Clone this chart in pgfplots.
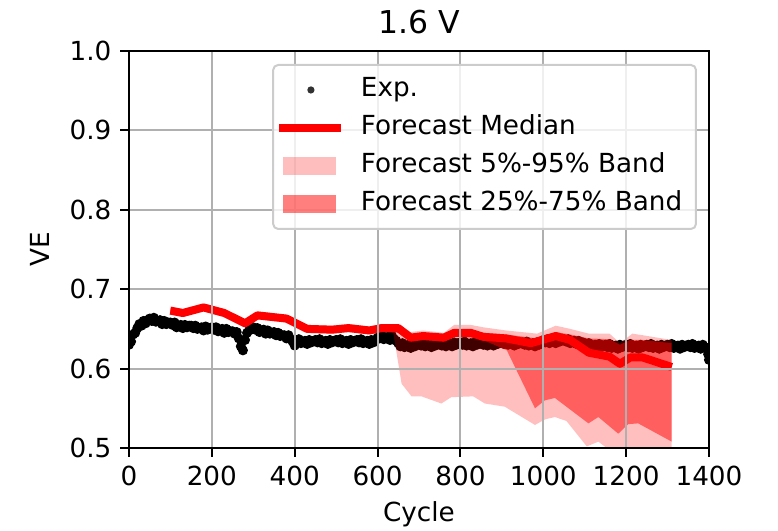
\documentclass[border=0pt]{standalone}
\usepackage{fontspec}
\setmainfont{DejaVu Sans}
\usepackage{pgfplots}
\pgfplotsset{compat=1.18}
\definecolor{gridgray}{RGB}{176,176,176}
\definecolor{legframe}{RGB}{204,204,204}
\begin{document}
\begin{tikzpicture}
\begin{axis}[
  name=ax,
  width=232pt, height=158.8pt, scale only axis,
  xmin=0, xmax=1400, ymin=0.5, ymax=1.0,
  xtick={0,200,400,600,800,1000,1200,1400},
  ytick={0.5,0.6,0.7,0.8,0.9,1.0},
  /pgf/number format/assume math mode=true,
  /pgf/number format/1000 sep={},
  yticklabel style={/pgf/number format/fixed, /pgf/number format/fixed zerofill, /pgf/number format/precision=1},
  tick label style={font=\fontsize{10.5}{12.6}\selectfont},
  grid=major,
  major grid style={gridgray, line width=0.8pt},
  axis on top,
  clip marker paths=true,
  axis line style={black, line width=0.8pt},
  tick style={black, line width=0.8pt},
  tick align=outside,
  major tick length=3.5pt,
  xtick pos=bottom, ytick pos=left,
  every axis title shift=0pt,
  title={1.6 V},
  title style={font=\fontsize{12.6}{15}\selectfont, at={(axis description cs:0.5,1)}, anchor=base, yshift=7.1pt},
  xlabel={Cycle},
  xlabel style={font=\fontsize{10.5}{12.6}\selectfont, at={(axis description cs:0.5,0)}, anchor=base, yshift=-29.5pt},
  ylabel={VE},
  ylabel style={font=\fontsize{10.5}{12.6}\selectfont, at={(axis description cs:-0.1534,0.5)}, anchor=center},
  legend style={at={(axis description cs:0.9793,0.9673)}, anchor=north east,
    draw=legframe, line width=0.8pt, rounded corners=2pt, fill=white, fill opacity=0.8, draw opacity=1, text opacity=1,
    font=\fontsize{10.5}{12.6}\selectfont, inner xsep=0.8pt, inner ysep=5pt, row sep=5.2pt,
    nodes={inner sep=0pt, text height=7.5pt, text depth=2.5pt}},
  legend cell align=left,
]
% legend entries
\addlegendimage{legend image code/.code={\path (0pt,0pt) (32.3pt,0pt); \fill[black, draw=none] (12.7pt,0pt) circle (1.45pt);}}
\addlegendentry{Exp.}
\addlegendimage{legend image code/.code={\path (0pt,0pt) (32.3pt,0pt); \draw[red, line width=3.2pt, sharp corners] (0pt,0pt) -- (24.7pt,0pt);}}
\addlegendentry{Forecast Median}
\addlegendimage{legend image code/.code={\path (0pt,0pt) (32.3pt,0pt); \path[fill=red, draw=none, sharp corners, fill opacity=0.25] (1.6pt,-3.6pt) rectangle (22.9pt,3.6pt);}}
\addlegendentry{Forecast 5\%-95\% Band}
\addlegendimage{legend image code/.code={\path (0pt,0pt) (32.3pt,0pt); \path[fill=red, draw=none, sharp corners, fill opacity=0.5] (1.6pt,-3.6pt) rectangle (22.9pt,3.6pt);}}
\addlegendentry{Forecast 25\%-75\% Band\hspace*{4.7pt}}

% experimental data
\addplot[forget plot, only marks, mark=*, mark size=1.8pt, black] coordinates {
(0,0.630) (5,0.634) (10,0.643) (15,0.645) (20,0.651) (25,0.656) (30,0.654) (35,0.660) (40,0.657) (45,0.661)
(50,0.663) (55,0.660) (60,0.664) (65,0.659) (70,0.660) (75,0.661) (80,0.656) (85,0.660) (90,0.656) (95,0.658)
(100,0.658) (105,0.655) (110,0.658) (115,0.652) (120,0.654) (125,0.655) (130,0.651) (135,0.655) (140,0.652) (145,0.654)
(150,0.654) (155,0.651) (160,0.654) (165,0.650) (170,0.651) (175,0.652) (180,0.648) (185,0.653) (190,0.649) (195,0.651)
(200,0.652) (205,0.649) (210,0.652) (215,0.647) (220,0.649) (225,0.650) (230,0.645) (235,0.650) (240,0.646) (245,0.647)
(250,0.647) (255,0.644) (260,0.646) (265,0.638) (270,0.628) (275,0.623) (280,0.636) (285,0.645) (290,0.648) (295,0.651)
(300,0.652) (305,0.649) (310,0.651) (315,0.646) (320,0.648) (325,0.649) (330,0.644) (335,0.648) (340,0.644) (345,0.645)
(350,0.646) (355,0.642) (360,0.645) (365,0.641) (370,0.642) (375,0.642) (380,0.638) (385,0.642) (390,0.637) (395,0.634)
(400,0.629) (405,0.633) (410,0.637) (415,0.632) (420,0.634) (425,0.635) (430,0.631) (435,0.636) (440,0.633) (445,0.635)
(450,0.636) (455,0.633) (460,0.637) (465,0.632) (470,0.634) (475,0.635) (480,0.631) (485,0.636) (490,0.633) (495,0.635)
(500,0.636) (505,0.633) (510,0.637) (515,0.632) (520,0.634) (525,0.635) (530,0.631) (535,0.636) (540,0.633) (545,0.635)
(550,0.636) (555,0.633) (560,0.637) (565,0.632) (570,0.634) (575,0.635) (580,0.631) (585,0.636) (590,0.633) (595,0.636)
(600,0.639) (605,0.638) (610,0.642) (615,0.637) (620,0.639) (625,0.640) (630,0.636) (635,0.641) (640,0.637) (645,0.635)
(650,0.632) (655,0.628) (660,0.632) (665,0.627) (670,0.629) (675,0.630) (680,0.626) (685,0.631) (690,0.628) (695,0.630)
(700,0.631) (705,0.629) (710,0.633) (715,0.628) (720,0.630) (725,0.631) (730,0.627) (735,0.632) (740,0.629) (745,0.631)
(750,0.632) (755,0.629) (760,0.633) (765,0.628) (770,0.630) (775,0.631) (780,0.628) (785,0.633) (790,0.630) (795,0.632)
(800,0.633) (805,0.630) (810,0.634) (815,0.629) (820,0.631) (825,0.632) (830,0.628) (835,0.633) (840,0.630) (845,0.632)
(850,0.633) (855,0.630) (860,0.634) (865,0.629) (870,0.631) (875,0.632) (880,0.629) (885,0.634) (890,0.631) (895,0.633)
(900,0.634) (905,0.631) (910,0.635) (915,0.630) (920,0.632) (925,0.633) (930,0.629) (935,0.634) (940,0.631) (945,0.633)
(950,0.633) (955,0.630) (960,0.634) (965,0.629) (970,0.631) (975,0.632) (980,0.628) (985,0.633) (990,0.630) (995,0.633)
(1000,0.636) (1005,0.633) (1010,0.637) (1015,0.632) (1020,0.634) (1025,0.635) (1030,0.632) (1035,0.637) (1040,0.634) (1045,0.636)
(1050,0.637) (1055,0.634) (1060,0.637) (1065,0.632) (1070,0.634) (1075,0.635) (1080,0.631) (1085,0.635) (1090,0.632) (1095,0.633)
(1100,0.632) (1105,0.629) (1110,0.632) (1115,0.627) (1120,0.629) (1125,0.630) (1130,0.626) (1135,0.631) (1140,0.627) (1145,0.629)
(1150,0.630) (1155,0.627) (1160,0.631) (1165,0.626) (1170,0.628) (1175,0.629) (1180,0.625) (1185,0.630) (1190,0.627) (1195,0.629)
(1200,0.630) (1205,0.627) (1210,0.631) (1215,0.626) (1220,0.628) (1225,0.629) (1230,0.625) (1235,0.630) (1240,0.627) (1245,0.629)
(1250,0.630) (1255,0.627) (1260,0.631) (1265,0.626) (1270,0.628) (1275,0.629) (1280,0.625) (1285,0.630) (1290,0.627) (1295,0.629)
(1300,0.630) (1305,0.627) (1310,0.631) (1315,0.626) (1320,0.628) (1325,0.629) (1330,0.625) (1335,0.630) (1340,0.627) (1345,0.629)
(1350,0.630) (1355,0.627) (1360,0.631) (1365,0.626) (1370,0.628) (1375,0.629) (1380,0.625) (1385,0.630) (1390,0.627) (1395,0.626)
(1398,0.618) (1400,0.611)
};

% 5%-95% band (upper edge forward, lower edge back)
\addplot[forget plot, draw=none, fill=red, fill opacity=0.25] coordinates {
(100,0.678) (130,0.675) (180,0.682) (230,0.675) (280,0.662) (310,0.672) (380,0.668) (430,0.655) (490,0.654) (530,0.656)
(580,0.653) (610,0.656) (650,0.656) (680,0.646) (710,0.648) (760,0.645) (785,0.655) (825,0.655) (855,0.652) (910,0.648)
(985,0.644) (1030,0.654) (1065,0.650) (1110,0.644) (1160,0.644) (1185,0.632) (1215,0.644) (1240,0.642) (1310,0.636)
(1310,0.490) (1160,0.490) (1153,0.500) (1133,0.508) (1105,0.502) (1056,0.534) (1028,0.539) (1004,0.536) (980,0.529) (907,0.552)
(859,0.556) (831,0.565) (778,0.564) (754,0.556) (706,0.565) (682,0.565) (658,0.581) (638,0.645) (610,0.646) (580,0.643)
(530,0.646) (490,0.644) (430,0.645) (380,0.658) (310,0.662) (280,0.652) (230,0.665) (180,0.672) (130,0.665) (100,0.668)
};

% 25%-75% band
\addplot[forget plot, draw=none, fill=red, fill opacity=0.5] coordinates {
(100,0.676) (130,0.673) (180,0.680) (230,0.673) (280,0.660) (310,0.670) (380,0.666) (430,0.653) (490,0.652) (530,0.654)
(580,0.651) (610,0.654) (650,0.654) (680,0.643) (710,0.644) (760,0.642) (785,0.649) (825,0.649) (855,0.645) (910,0.643)
(985,0.638) (1030,0.646) (1065,0.643) (1110,0.638) (1160,0.637) (1185,0.630) (1210,0.636) (1240,0.636) (1310,0.632)
(1310,0.508) (1229,0.531) (1205,0.530) (1181,0.518) (1133,0.539) (1109,0.531) (1028,0.563) (1004,0.560) (980,0.550) (912,0.623)
(855,0.636) (825,0.639) (785,0.640) (760,0.634) (710,0.636) (680,0.634) (650,0.645) (610,0.647) (580,0.645) (530,0.648)
(490,0.646) (430,0.647) (380,0.660) (310,0.664) (280,0.654) (230,0.667) (180,0.674) (130,0.667) (100,0.670)
};

% forecast median
\addplot[forget plot, red, line width=3.2pt, line join=round] coordinates {
(100,0.673) (130,0.670) (180,0.677) (230,0.670) (280,0.657) (310,0.667) (380,0.663) (430,0.650) (490,0.649) (530,0.651)
(580,0.648) (610,0.651) (650,0.651) (680,0.639) (710,0.641) (760,0.639) (785,0.645) (825,0.645) (855,0.640) (910,0.638)
(970,0.632) (1030,0.641) (1065,0.636) (1110,0.620) (1160,0.615) (1185,0.606) (1210,0.614) (1240,0.614) (1310,0.602)
};
\end{axis}
\pgfresetboundingbox
\path ([shift={(-51.6pt,-33.2pt)}]ax.south west) rectangle ([shift={(27.6pt,20.4pt)}]ax.north east);
\end{tikzpicture}
\end{document}
